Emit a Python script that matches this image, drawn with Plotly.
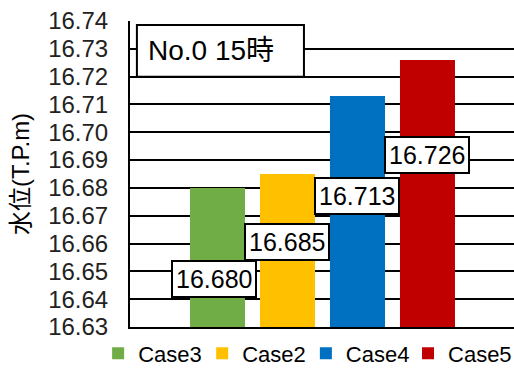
import plotly.graph_objects as go

# Water level at No.0, 15:00 for each case
cases = ["Case3", "Case2", "Case4", "Case5"]
levels = [16.680, 16.685, 16.713, 16.726]
colors = ["#70AD47", "#FFC000", "#0070C0", "#C00000"]
y_ticks = [16.63, 16.64, 16.65, 16.66, 16.67, 16.68, 16.69, 16.70, 16.71, 16.72, 16.73, 16.74]

# label box offsets (pixels) relative to each bar's top
label_dx = [-4, 0, 0, 0]
label_dy = [-91, -68, -100, -95]

# one legend per case, laid out in a row under the plot (paper x of each)
legend_ids = ["legend", "legend2", "legend3", "legend4"]
legend_x = [-0.083, 0.188, 0.458, 0.724]

FONT = "Liberation Sans, Arial, Noto Sans CJK JP, sans-serif"

fig = go.Figure()
for name, val, col, lg in zip(cases, levels, colors, legend_ids):
    fig.add_trace(go.Bar(
        x=[name], y=[val], name=name,
        marker=dict(color=col, line=dict(width=0)),
        width=0.786, legend=lg,
    ))

for name, val, dx, dy in zip(cases, levels, label_dx, label_dy):
    fig.add_annotation(
        x=name, y=val, xref="x", yref="y",
        text=f"{val:.3f}", showarrow=False,
        xshift=dx, yshift=dy,
        font=dict(family=FONT, size=25, color="#000"),
        bgcolor="white", bordercolor="#000", borderwidth=2, borderpad=3,
    )

# title box in the upper left of the plot area
fig.add_shape(type="rect", xref="paper", yref="paper",
              x0=0.018, x1=0.453, y0=0.818, y1=0.987,
              line=dict(color="#000", width=2), fillcolor="white", layer="above")
fig.add_annotation(xref="paper", yref="paper", x=0.042, y=0.903,
                   xanchor="left", yanchor="middle", showarrow=False,
                   text="No.0 15時", font=dict(family=FONT, size=28, color="#000"))

legend_style = dict(orientation="h", xanchor="left", y=-0.018, yanchor="top",
                    font=dict(family=FONT, size=22, color="#000"),
                    itemwidth=30, bgcolor="rgba(0,0,0,0)")

fig.update_layout(
    width=514, height=372,
    margin=dict(l=130, r=0, t=21, b=45, autoexpand=False),
    paper_bgcolor="white", plot_bgcolor="white",
    barmode="overlay",
    showlegend=True,
    font=dict(family=FONT, color="#000"),
    **{lg: dict(x=lx, **legend_style) for lg, lx in zip(legend_ids, legend_x)},
)
fig.update_xaxes(type="category", categoryorder="array", categoryarray=cases,
                 range=[-1.25, 4.236], showticklabels=False, showgrid=False,
                 zeroline=False, showline=True, linecolor="#000", linewidth=2, ticks="")
fig.update_yaxes(range=[16.63, 16.74], tickvals=y_ticks,
                 ticktext=[f"{v:.2f}" for v in y_ticks],
                 tickfont=dict(family=FONT, size=24, color="#222"),
                 showgrid=True, gridcolor="#000", gridwidth=2,
                 zeroline=False, showline=True, linecolor="#000", linewidth=2,
                 ticks="", ticklabelstandoff=15,
                 title=dict(text="水位(T.P.m)", font=dict(family=FONT, size=24, color="#000"),
                            standoff=12))

fig.write_html("out.html")
